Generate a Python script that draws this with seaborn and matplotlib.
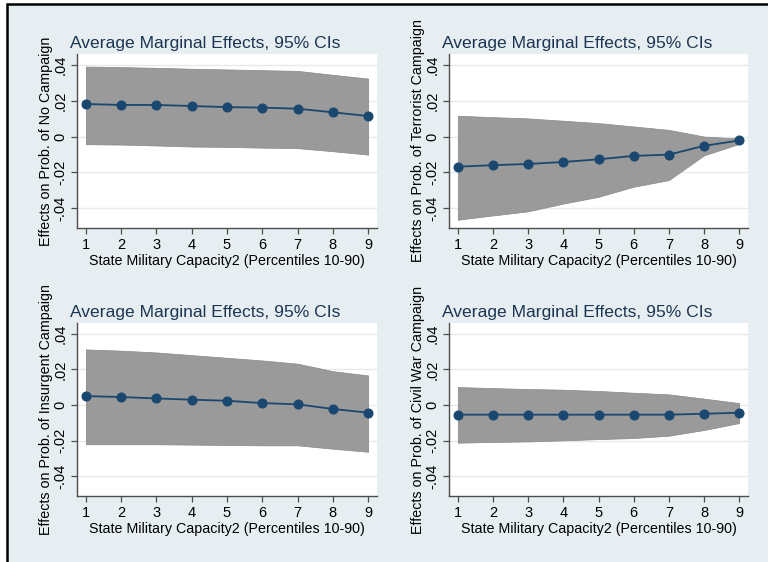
import numpy as np
import pandas as pd
import matplotlib
matplotlib.use("Agg")
import matplotlib.pyplot as plt
from matplotlib.patches import Rectangle
import seaborn as sns

# Percentile steps of state military capacity (10th-90th)
steps = [1, 2, 3, 4, 5, 6, 7, 8, 9]

# Average marginal effects and 95% confidence bounds, one set per outcome
no_campaign = [0.0181, 0.0176, 0.0176, 0.0170, 0.0164, 0.0161, 0.0155, 0.0135, 0.0114]
no_campaign_hi = [0.0390, 0.0387, 0.0383, 0.0378, 0.0374, 0.0370, 0.0366, 0.0344, 0.0323]
no_campaign_lo = [-0.0043, -0.0045, -0.0050, -0.0056, -0.0058, -0.0062, -0.0065, -0.0082, -0.0101]

terrorist = [-0.0168, -0.0160, -0.0153, -0.0142, -0.0127, -0.0108, -0.0101, -0.0052, -0.0022]
terrorist_hi = [0.0116, 0.0108, 0.0101, 0.0088, 0.0075, 0.0056, 0.0037, 0.0000, -0.0011]
terrorist_lo = [-0.0464, -0.0440, -0.0417, -0.0374, -0.0336, -0.0280, -0.0243, -0.0105, -0.0041]

insurgent = [0.0050, 0.0045, 0.0037, 0.0030, 0.0024, 0.0011, 0.0004, -0.0022, -0.0043]
insurgent_hi = [0.0312, 0.0305, 0.0295, 0.0280, 0.0265, 0.0250, 0.0232, 0.0190, 0.0166]
insurgent_lo = [-0.0220, -0.0220, -0.0220, -0.0222, -0.0224, -0.0226, -0.0226, -0.0245, -0.0262]

civil_war = [-0.0054, -0.0054, -0.0054, -0.0054, -0.0054, -0.0054, -0.0054, -0.0049, -0.0043]
civil_war_hi = [0.0101, 0.0095, 0.0090, 0.0086, 0.0079, 0.0069, 0.0060, 0.0036, 0.0011]
civil_war_lo = [-0.0211, -0.0207, -0.0204, -0.0198, -0.0191, -0.0185, -0.0172, -0.0140, -0.0101]

y_ticks = [-0.04, -0.02, 0.0, 0.02, 0.04]
y_tick_labels = ["-.04", "-.02", "0", ".02", ".04"]

title = "Average Marginal Effects, 95% CIs"
x_label = "State Military Capacity2 (Percentiles 10-90)"
y_labels = [
    "Effects on Prob. of No Campaign",
    "Effects on Prob. of Terrorist Campaign",
    "Effects on Prob. of Insurgent Campaign",
    "Effects on Prob. of Civil War Campaign",
]

panels = [
    (no_campaign, no_campaign_lo, no_campaign_hi),
    (terrorist, terrorist_lo, terrorist_hi),
    (insurgent, insurgent_lo, insurgent_hi),
    (civil_war, civil_war_lo, civil_war_hi),
]

sns.set_theme(style="white")
plt.rcParams["font.family"] = ["Liberation Sans", "DejaVu Sans"]

BG = "#e6eef1"
NAVY = "#1a476f"
BAND = "#9a9a9a"
AXIS = "#4d4d4d"

W, H = 768, 562
fig = plt.figure(figsize=(W / 100, H / 100), dpi=100, facecolor="white")

# framed page background, kept behind the axes
frame = Rectangle((7 / W, -0.02), 1.05, (H - 4) / H + 0.02,
                  transform=fig.transFigure, facecolor=BG,
                  edgecolor="black", linewidth=1.8, zorder=-10)
fig.patches.append(frame)

# axes boxes in pixels: (left, top, right, bottom)
boxes = [(77, 54, 377, 228), (449, 54, 748, 228),
         (77, 323, 377, 496), (449, 323, 748, 496)]

for (est, lo, hi), ylab, (l, t, r, b) in zip(panels, y_labels, boxes):
    ax = fig.add_axes([l / W, 1 - b / H, (r - l) / W, (b - t) / H])
    ax.set_facecolor("white")
    df = pd.DataFrame({"step": steps, "est": est, "lo": lo, "hi": hi})

    ax.fill_between(df["step"], df["lo"], df["hi"], facecolor=BAND,
                    edgecolor="#888888", linewidth=0.5, zorder=2)
    sns.lineplot(data=df, x="step", y="est", ax=ax, color=NAVY,
                 linewidth=1.3, marker="o", markersize=6.5,
                 markeredgecolor=NAVY, zorder=3)

    ax.set_xlim(0.75, 9.25)
    ax.set_ylim(-0.051, 0.046)
    ax.set_xticks(steps)
    ax.set_xticklabels([str(s) for s in steps])
    ax.set_yticks(y_ticks)
    ax.set_yticklabels(y_tick_labels, rotation=90, va="center")

    ax.grid(axis="y", color="#e3ebee", linewidth=1.0, zorder=1)
    ax.set_axisbelow(True)
    for side in ("top", "right"):
        ax.spines[side].set_visible(False)
    for side in ("left", "bottom"):
        ax.spines[side].set_color(AXIS)
        ax.spines[side].set_linewidth(1.0)
    ax.tick_params(axis="both", which="major", direction="out", length=4,
                   width=0.9, color=AXIS, labelsize=10.5, labelcolor="black",
                   pad=3, left=True, bottom=True)

    ax.set_xlabel(x_label, fontsize=10.3, color="black", labelpad=2)
    ax.set_ylabel(ylab, fontsize=10.3, color="black", labelpad=0)

    fig.text((l - 7) / W, 1 - (t - 3) / H, title, fontsize=12.6,
             color="#1c3553", ha="left", va="bottom")

fig.savefig("out.png", dpi=100, facecolor=fig.get_facecolor())
